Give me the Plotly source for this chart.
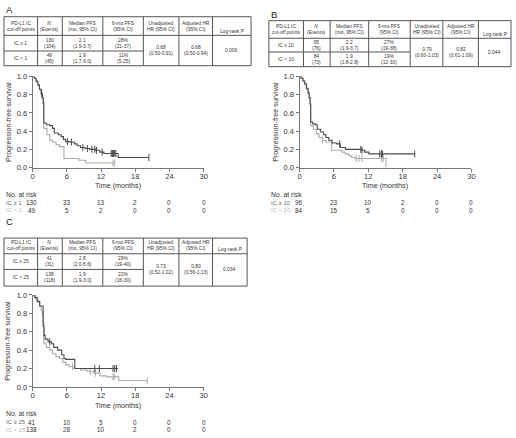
import numpy as np
import plotly.graph_objects as go

W, H = 516, 438
FONT = "Liberation Sans, Arial, sans-serif"
DARK = "#4a4a4a"
LIGHT = "#ababab"
TXT = "#333333"
AX = "#777777"


def px(x):
    return x / W


def py(y):
    return 1 - y / H


months_ticks = [0, 6, 12, 18, 24, 30]
risk_shift = [-1, 0, 0, 0, 0, 0]
surv_ticks = [0, 0.2, 0.4, 0.6, 0.8, 1.0]

# ---------------- Panel A (IC 1 cut-off) ----------------
a_hi_t = [0, 0.3, 0.6, 0.9, 1.2, 1.5, 1.7, 1.85, 1.95, 2.4, 3.0, 3.5, 3.8, 4.5, 5.0, 5.4, 5.8,
          6.5, 7.3, 7.8, 8.4, 9.2, 10.0, 11.0, 11.8, 12.5, 15.0, 20.4]
a_hi_s = [1.0, 0.98, 0.95, 0.91, 0.86, 0.81, 0.77, 0.71, 0.49, 0.47, 0.46, 0.43, 0.38, 0.36, 0.34,
          0.31, 0.285, 0.28, 0.26, 0.24, 0.22, 0.21, 0.20, 0.19, 0.17, 0.155, 0.11, 0.11]
a_hi_cens = [1.6, 6.1, 6.8, 8.8, 9.6, 10.4, 10.9, 11.2, 12.2, 13.8, 14.0, 14.2, 14.4, 14.6, 20.4]
a_lo_t = [0, 0.3, 0.6, 0.9, 1.2, 1.5, 1.7, 1.85, 1.95, 2.5, 3.0, 3.5, 4.1, 4.7, 5.5, 8.1, 9.3, 14.4]
a_lo_s = [1.0, 0.98, 0.94, 0.90, 0.86, 0.80, 0.76, 0.70, 0.43, 0.36, 0.30, 0.28, 0.25, 0.23, 0.10,
          0.08, 0.05, 0.05]
a_lo_cens = [14.1, 14.4]
a_risk_hi = ["130", "33", "13", "2", "0", "0"]
a_risk_lo = ["49", "5", "2", "0", "0", "0"]
a_labels = ["IC \u2265 1", "IC < 1"]
a_row1 = ["IC \u2265 1", "130<br>(104)", "2.1<br>(1.9-3.7)", "28%<br>(21-37)"]
a_row2 = ["IC < 1", "49<br>(45)", "1.9<br>(1.7-3.0)", "11%<br>(5-25)"]
a_merged = ["0.68<br>(0.50-0.91)", "0.68<br>(0.50-0.94)", "0.006"]

# ---------------- Panel B (IC 10 cut-off) ----------------
b_hi_t = [0, 0.3, 0.6, 0.9, 1.2, 1.5, 1.7, 1.85, 1.95, 2.3, 2.8, 3.1, 3.7, 4.2, 4.6, 5.1, 5.7,
          6.5, 7.1, 8.0, 10.9, 11.4, 12.1, 20.1]
b_hi_s = [1.0, 0.98, 0.95, 0.92, 0.87, 0.82, 0.77, 0.70, 0.50, 0.48, 0.47, 0.42, 0.39, 0.36, 0.33,
          0.30, 0.27, 0.26, 0.22, 0.20, 0.19, 0.17, 0.15, 0.15]
b_hi_cens = [7.0, 10.7, 10.9, 14.0, 14.3, 14.5, 20.1]
b_lo_t = [0, 0.3, 0.6, 0.9, 1.2, 1.5, 1.7, 1.85, 1.95, 2.4, 2.9, 3.4, 4.0, 4.6, 5.6, 7.4, 8.0,
          8.6, 9.1, 9.7, 15.1]
b_lo_s = [1.0, 0.98, 0.95, 0.91, 0.86, 0.81, 0.76, 0.69, 0.46, 0.42, 0.37, 0.33, 0.30, 0.28, 0.19,
          0.17, 0.15, 0.13, 0.11, 0.10, 0.0]
b_lo_cens = [4.0, 9.9, 10.4, 10.9, 14.3, 14.6]
b_risk_hi = ["96", "23", "10", "2", "0", "0"]
b_risk_lo = ["84", "15", "5", "0", "0", "0"]
b_labels = ["IC \u2265 10", "IC < 10"]
b_row1 = ["IC \u2265 10", "95<br>(76)", "2.2<br>(1.9-3.7)", "27%<br>(19-38)"]
b_row2 = ["IC < 10", "84<br>(73)", "1.9<br>(1.8-2.8)", "19%<br>(12-30)"]
b_merged = ["0.79<br>(0.60-1.03)", "0.82<br>(0.61-1.09)", "0.044"]

# ---------------- Panel C (IC 25 cut-off) ----------------
c_hi_t = [0, 0.4, 0.8, 1.25, 1.85, 2.0, 2.2, 2.7, 3.3, 3.7, 4.4, 5.1, 5.5, 5.8, 7.4, 15.0]
c_hi_s = [1.0, 0.97, 0.93, 0.88, 0.66, 0.56, 0.52, 0.49, 0.47, 0.43, 0.40, 0.35, 0.31, 0.30,
          0.20, 0.20]
c_hi_cens = [3.0, 10.9, 11.7, 14.1, 14.4, 14.7]
c_lo_t = [0, 0.3, 0.6, 0.9, 1.2, 1.5, 1.7, 1.85, 1.95, 2.4, 3.0, 3.5, 4.1, 4.7, 5.3, 5.8, 6.4,
          7.3, 8.4, 9.5, 10.7, 11.8, 13.0, 15.1, 20.1]
c_lo_s = [1.0, 0.98, 0.95, 0.92, 0.88, 0.83, 0.78, 0.70, 0.47, 0.43, 0.40, 0.36, 0.33, 0.31,
          0.27, 0.24, 0.22, 0.20, 0.185, 0.17, 0.15, 0.12, 0.11, 0.07, 0.07]
c_lo_cens = [7.0, 10.1, 11.0, 14.1, 14.3, 20.1]
c_risk_hi = ["41", "10", "5", "0", "0", "0"]
c_risk_lo = ["138", "28", "10", "2", "0", "0"]
c_labels = ["IC \u2265 25", "IC < 25"]
c_row1 = ["IC \u2265 25", "41<br>(31)", "2.8<br>(2.0-5.6)", "29%<br>(19-40)"]
c_row2 = ["IC < 25", "138<br>(118)", "1.9<br>(1.9-3.0)", "22%<br>(16-30)"]
c_merged = ["0.73<br>(0.52-1.02)", "0.80<br>(0.56-1.13)", "0.034"]

header = ["PD-L1 IC<br>cut-off points", "<i>N</i><br>(Events)", "Median PFS<br>(mo, 95% CI)",
          "6-mo PFS<br>(95% CI)", "Unadjusted<br>HR (95% CI)", "Adjusted HR<br>(95% CI)"]
logrank_header = "Log-rank P"

fig = go.Figure()
shapes = []
annos = []


def step_at(t, s, pts):
    t = np.asarray(t)
    s = np.asarray(s)
    idx = np.searchsorted(t, pts, side="right") - 1
    return s[idx]


def add_km(axn, hi_t, hi_s, hi_c, lo_t, lo_s, lo_c):
    xa = "x" if axn == 1 else f"x{axn}"
    ya = "y" if axn == 1 else f"y{axn}"
    for t, s, c, col in [(lo_t, lo_s, lo_c, LIGHT), (hi_t, hi_s, hi_c, DARK)]:
        fig.add_trace(go.Scatter(x=t, y=s, mode="lines", line=dict(shape="hv", color=col, width=1.1),
                                 xaxis=xa, yaxis=ya, showlegend=False, hoverinfo="skip"))
        fig.add_trace(go.Scatter(x=c, y=step_at(t, s, c), mode="markers",
                                 marker=dict(symbol="line-ns-open", size=5, color=col,
                                             line=dict(width=1, color=col)),
                                 xaxis=xa, yaxis=ya, showlegend=False, hoverinfo="skip",
                                 cliponaxis=False))


def add_table(cols, rows, row1, row2, merged, fs=4.9):
    top, hb, rs, bot = rows
    lc = "#555555"
    shapes.append(dict(type="rect", xref="paper", yref="paper", x0=px(cols[0]), x1=px(cols[-1]),
                       y0=py(bot), y1=py(top), line=dict(color=lc, width=1)))
    shapes.append(dict(type="line", xref="paper", yref="paper", x0=px(cols[0]), x1=px(cols[-1]),
                       y0=py(hb), y1=py(hb), line=dict(color=lc, width=1)))
    shapes.append(dict(type="line", xref="paper", yref="paper", x0=px(cols[0]), x1=px(cols[4]),
                       y0=py(rs), y1=py(rs), line=dict(color=lc, width=1)))
    for c in cols[1:-1]:
        shapes.append(dict(type="line", xref="paper", yref="paper", x0=px(c), x1=px(c),
                           y0=py(bot), y1=py(top), line=dict(color=lc, width=1)))
    f = dict(family=FONT, size=fs, color=TXT)
    for i in range(7):
        cx = (cols[i] + cols[i + 1]) / 2
        if i < 6:
            annos.append(dict(x=px(cx), y=py((top + hb) / 2), text=header[i], showarrow=False,
                              xref="paper", yref="paper", font=f, xanchor="center", yanchor="middle"))
        else:
            annos.append(dict(x=px(cx), y=py(hb - 4), text=logrank_header, showarrow=False,
                              xref="paper", yref="paper", font=f, xanchor="center", yanchor="middle"))
    for i in range(4):
        cx = (cols[i] + cols[i + 1]) / 2
        annos.append(dict(x=px(cx), y=py((hb + rs) / 2), text=row1[i], showarrow=False,
                          xref="paper", yref="paper", font=f, xanchor="center", yanchor="middle"))
        annos.append(dict(x=px(cx), y=py((rs + bot) / 2), text=row2[i], showarrow=False,
                          xref="paper", yref="paper", font=f, xanchor="center", yanchor="middle"))
    for j in range(3):
        cx = (cols[4 + j] + cols[5 + j]) / 2
        annos.append(dict(x=px(cx), y=py((hb + bot) / 2), text=merged[j], showarrow=False,
                          xref="paper", yref="paper", font=f, xanchor="center", yanchor="middle"))


def add_axes(axn, x0, x1, ytop, ybot, left_px, risk_hi, risk_lo, labels, letter, letter_y):
    ax = dict(domain=[px(x0), px(x1)], range=[0, 30], tickvals=months_ticks, showline=True,
              linecolor=AX, linewidth=1, ticks="outside", ticklen=3, tickcolor=AX, showgrid=False,
              zeroline=False, tickfont=dict(family=FONT, size=7.5, color=TXT), fixedrange=True,
              ticklabelstandoff=-2, anchor="y" if axn == 1 else f"y{axn}")
    ay = dict(domain=[py(ybot), py(ytop)], range=[0, 1.0], tickvals=surv_ticks, tickformat=".1f",
              showline=True, linecolor=AX, linewidth=1, ticks="outside", ticklen=3, tickcolor=AX,
              showgrid=False, zeroline=False, tickfont=dict(family=FONT, size=7.5, color=TXT),
              fixedrange=True, anchor="x" if axn == 1 else f"x{axn}")
    key = "" if axn == 1 else str(axn)
    fig.update_layout(**{f"xaxis{key}": ax, f"yaxis{key}": ay})
    xref = "x" if axn == 1 else f"x{axn}"
    f7 = dict(family=FONT, size=7.2, color=TXT)
    fr = dict(family=FONT, size=6.3, color=TXT)
    annos.append(dict(x=px((x0 + x1) / 2), y=py(ybot + 18.5), text="Time (months)", showarrow=False,
                      xref="paper", yref="paper", font=f7, xanchor="center", yanchor="middle"))
    annos.append(dict(x=px(x0 - 25), y=py((ytop + ybot) / 2), text="Progression-free survival",
                      textangle=-90, showarrow=False, xref="paper", yref="paper", font=f7,
                      xanchor="center", yanchor="middle"))
    annos.append(dict(x=px(left_px), y=py(ybot + 27.5), text="No. at risk", showarrow=False,
                      xref="paper", yref="paper", font=dict(family=FONT, size=6.8, color=TXT),
                      xanchor="left", yanchor="middle"))
    annos.append(dict(x=px(left_px), y=py(ybot + 36), text=labels[0], showarrow=False,
                      xref="paper", yref="paper", font=dict(family=FONT, size=5.9, color="#6a6a6a"),
                      xanchor="left", yanchor="middle"))
    annos.append(dict(x=px(left_px), y=py(ybot + 43.5), text=labels[1], showarrow=False,
                      xref="paper", yref="paper", font=dict(family=FONT, size=5.9, color="#b8b8b8"),
                      xanchor="left", yanchor="middle"))
    for m, sh, vh, vl in zip(months_ticks, risk_shift, risk_hi, risk_lo):
        annos.append(dict(x=m, xshift=sh, y=py(ybot + 36), text=vh, showarrow=False, xref=xref,
                          yref="paper", font=fr, xanchor="center", yanchor="middle"))
        annos.append(dict(x=m, xshift=sh, y=py(ybot + 43.5), text=vl, showarrow=False, xref=xref,
                          yref="paper", font=fr, xanchor="center", yanchor="middle"))
    annos.append(dict(x=px(left_px), y=py(letter_y), text=letter, showarrow=False, xref="paper",
                      yref="paper", font=dict(family=FONT, size=9.5, color="#222222"),
                      xanchor="left", yanchor="middle"))


add_km(1, a_hi_t, a_hi_s, a_hi_cens, a_lo_t, a_lo_s, a_lo_cens)
add_km(2, b_hi_t, b_hi_s, b_hi_cens, b_lo_t, b_lo_s, b_lo_cens)
add_km(3, c_hi_t, c_hi_s, c_hi_cens, c_lo_t, c_lo_s, c_lo_cens)

add_axes(1, 31, 204, 74, 167, 2, a_risk_hi, a_risk_lo, a_labels, "A", 6)
add_axes(2, 301, 475, 74, 167, 270, b_risk_hi, b_risk_lo, b_labels, "B", 11)
add_axes(3, 31, 204, 297, 391, 2, c_risk_hi, c_risk_lo, c_labels, "C", 222)

add_table([2, 36, 61, 102, 143, 179, 213, 252], [13, 32, 48, 63], a_row1, a_row2, a_merged)
add_table([270, 305, 332, 371, 413, 446, 482, 515], [17, 35, 49, 64], b_row1, b_row2, b_merged)
add_table([2, 36, 61, 102, 143, 179, 213, 248], [239, 255, 271, 288], c_row1, c_row2, c_merged)

fig.update_layout(width=W, height=H, margin=dict(l=0, r=0, t=0, b=0), paper_bgcolor="white",
                  plot_bgcolor="white", shapes=shapes, annotations=annos, showlegend=False,
                  font=dict(family=FONT, color=TXT))
fig.write_html("out.html", config={"displayModeBar": False, "staticPlot": True},
               post_script="document.body.style.margin='0';document.body.style.overflow='hidden';")
